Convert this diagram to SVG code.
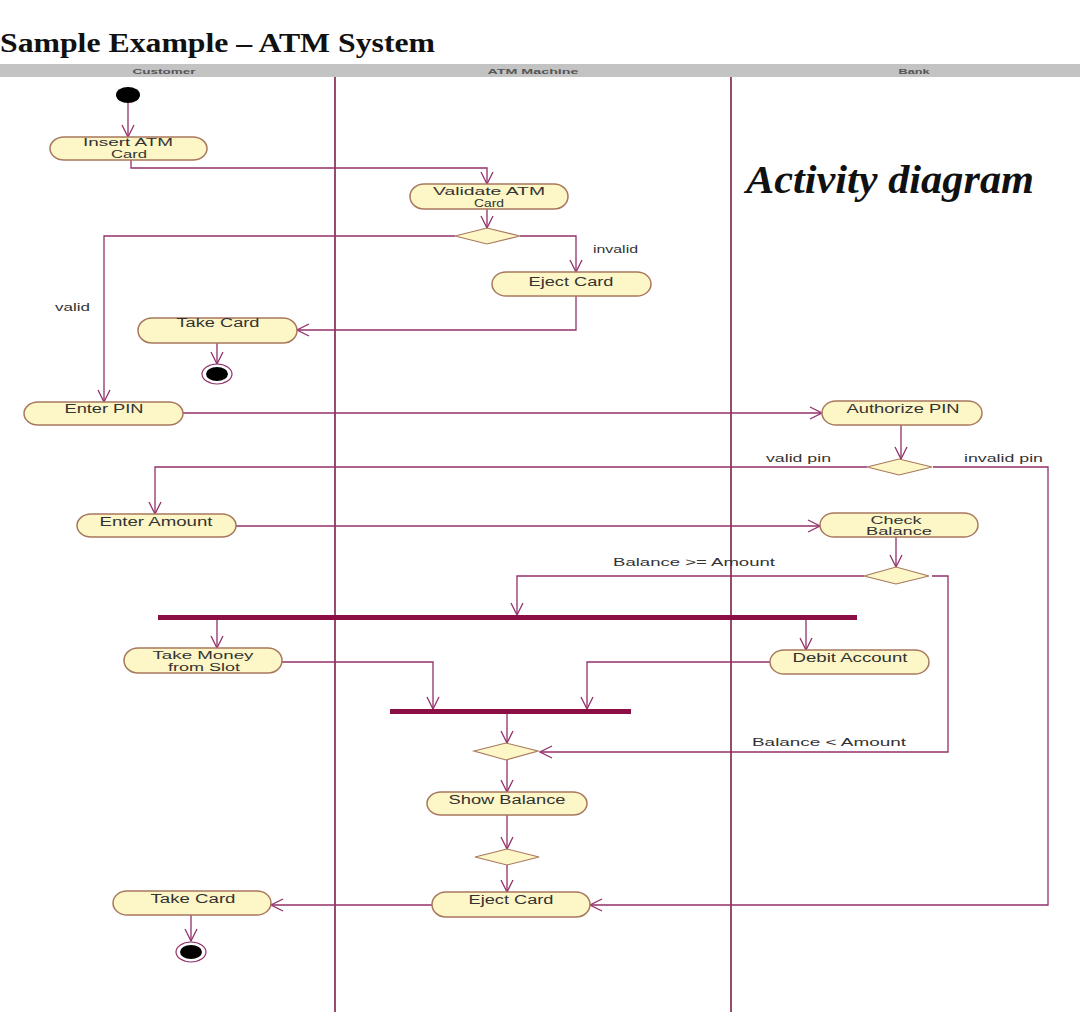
<svg xmlns="http://www.w3.org/2000/svg" width="1080" height="1019" viewBox="0 0 1080 1019">
<defs>
<style>
.act{fill:#fdf6c6;stroke:#a8785e;stroke-width:1.5}
.dec{fill:#fdf6c6;stroke:#a8785e;stroke-width:1.2}
.t{font-family:"Liberation Sans",Arial,sans-serif;font-size:12px;fill:#333;text-anchor:middle}
.t2{font-family:"Liberation Sans",Arial,sans-serif;font-size:10px;fill:#333;text-anchor:middle}
.lbl{font-family:"Liberation Sans",Arial,sans-serif;font-size:11px;fill:#333}
.hdr{font-family:"Liberation Sans",Arial,sans-serif;font-size:8px;font-weight:bold;fill:#555;text-anchor:middle}
.c{fill:none;stroke:#93306a;stroke-width:1.3}
.lane{stroke:#7a2048;stroke-width:1.6}
.bar{fill:#8b0e45}
</style>
<marker id="ar" markerUnits="userSpaceOnUse" markerWidth="14" markerHeight="14" viewBox="0 0 14 14" refX="13" refY="7" orient="auto">
<path d="M1,1 L13,7 L1,13" fill="none" stroke="#93306a" stroke-width="1.3"/>
</marker>
</defs>
<rect width="1080" height="1019" fill="#ffffff"/>
<text x="0" y="52" font-family="'Liberation Serif','Times New Roman',serif" font-size="28" font-weight="bold" fill="#111" textLength="435" lengthAdjust="spacingAndGlyphs">Sample Example – ATM System</text>
<g id="swimlanes">
<rect x="0" y="64" width="1080" height="13" fill="#c3c3c3"/>
<text class="hdr" x="164" y="74" textLength="63" lengthAdjust="spacingAndGlyphs">Customer</text>
<text class="hdr" x="533" y="74" textLength="91" lengthAdjust="spacingAndGlyphs">ATM Machine</text>
<text class="hdr" x="914" y="74" textLength="31" lengthAdjust="spacingAndGlyphs">Bank</text>
<line class="lane" x1="335" y1="77" x2="335" y2="1012"/>
<line class="lane" x1="731" y1="77" x2="731" y2="1012"/>
</g>
<text x="746" y="193" font-family="'Liberation Serif','Times New Roman',serif" font-size="40" font-weight="bold" font-style="italic" fill="#111" textLength="288" lengthAdjust="spacingAndGlyphs">Activity diagram</text>
<g id="connectors">
<path class="c" d="M128,103 L128,137" marker-end="url(#ar)"/>
<path class="c" d="M131,160 L131,168 L487,168 L487,184" marker-end="url(#ar)"/>
<path class="c" d="M487,209 L487,228" marker-end="url(#ar)"/>
<path class="c" d="M455,236 L104,236 L104,402" marker-end="url(#ar)"/>
<path class="c" d="M520,236 L576,236 L576,272" marker-end="url(#ar)"/>
<path class="c" d="M576,296 L576,330 L297,330" marker-end="url(#ar)"/>
<path class="c" d="M217,343 L217,364" marker-end="url(#ar)"/>
<path class="c" d="M183,413 L822,413" marker-end="url(#ar)"/>
<path class="c" d="M901,425 L901,459" marker-end="url(#ar)"/>
<path class="c" d="M867,467 L155,467 L155,514" marker-end="url(#ar)"/>
<path class="c" d="M933,467 L1048,467 L1048,905 L590,905" marker-end="url(#ar)"/>
<path class="c" d="M236,526 L820,526" marker-end="url(#ar)"/>
<path class="c" d="M896,537 L896,567" marker-end="url(#ar)"/>
<path class="c" d="M864,576 L517,576 L517,615" marker-end="url(#ar)"/>
<path class="c" d="M932,576 L948,576 L948,752 L540,752" marker-end="url(#ar)"/>
<path class="c" d="M217,620 L217,648" marker-end="url(#ar)"/>
<path class="c" d="M806,620 L806,650" marker-end="url(#ar)"/>
<path class="c" d="M282,662 L433,662 L433,709" marker-end="url(#ar)"/>
<path class="c" d="M770,662 L587,662 L587,709" marker-end="url(#ar)"/>
<path class="c" d="M507,714 L507,743" marker-end="url(#ar)"/>
<path class="c" d="M507,760 L507,792" marker-end="url(#ar)"/>
<path class="c" d="M507,815 L507,849" marker-end="url(#ar)"/>
<path class="c" d="M507,865 L507,892" marker-end="url(#ar)"/>
<path class="c" d="M432,905 L271,905" marker-end="url(#ar)"/>
<path class="c" d="M191,915 L191,941" marker-end="url(#ar)"/>
<text class="lbl" x="55" y="311" textLength="35" lengthAdjust="spacingAndGlyphs">valid</text>
<text class="lbl" x="593" y="253" textLength="45" lengthAdjust="spacingAndGlyphs">invalid</text>
<text class="lbl" x="766" y="462" textLength="65" lengthAdjust="spacingAndGlyphs">valid pin</text>
<text class="lbl" x="964" y="462" textLength="79" lengthAdjust="spacingAndGlyphs">invalid pin</text>
<text class="lbl" x="613" y="566" textLength="162" lengthAdjust="spacingAndGlyphs">Balance &gt;= Amount</text>
<text class="lbl" x="752" y="746" textLength="154" lengthAdjust="spacingAndGlyphs">Balance &lt; Amount</text>
</g>
<g id="start"><ellipse cx="128" cy="95" rx="12" ry="8" fill="#000"/></g>
<g id="insert-card"><rect class="act" x="50" y="137" width="157" height="23" rx="14" ry="11.5"/>
<text class="t2" x="128" y="146" textLength="90" lengthAdjust="spacingAndGlyphs">Insert ATM</text>
<text class="t2" x="129" y="157.5" textLength="36" lengthAdjust="spacingAndGlyphs">Card</text></g>
<g id="validate-card"><rect class="act" x="410" y="184" width="158" height="25" rx="14" ry="12.5"/>
<text class="t2" x="489" y="195" textLength="112" lengthAdjust="spacingAndGlyphs">Validate ATM</text>
<text class="t2" x="489" y="206.5" textLength="30" lengthAdjust="spacingAndGlyphs">Card</text></g>
<g id="decision-card"><polygon class="dec" points="455,236 487,228 520,236 487,244"/></g>
<g id="eject-card-1"><rect class="act" x="492" y="272" width="159" height="24" rx="14" ry="12"/>
<text class="t" x="571" y="286" textLength="85" lengthAdjust="spacingAndGlyphs">Eject Card</text></g>
<g id="take-card-1"><rect class="act" x="138" y="318" width="159" height="25" rx="14" ry="12.5"/>
<text class="t" x="218" y="327" textLength="83" lengthAdjust="spacingAndGlyphs">Take Card</text></g>
<g id="end-1"><ellipse cx="217" cy="374" rx="15" ry="10" fill="#fff" stroke="#93306a" stroke-width="1.2"/><ellipse cx="217" cy="374" rx="11" ry="7" fill="#000"/></g>
<g id="enter-pin"><rect class="act" x="24" y="402" width="159" height="23" rx="14" ry="11.5"/>
<text class="t" x="104" y="413" textLength="79" lengthAdjust="spacingAndGlyphs">Enter PIN</text></g>
<g id="authorize-pin"><rect class="act" x="822" y="401" width="160" height="24" rx="14" ry="12"/>
<text class="t" x="903" y="413" textLength="113" lengthAdjust="spacingAndGlyphs">Authorize PIN</text></g>
<g id="decision-pin"><polygon class="dec" points="867,467 899,459 932,467 899,475"/></g>
<g id="enter-amount"><rect class="act" x="77" y="514" width="159" height="23" rx="14" ry="11.5"/>
<text class="t" x="156" y="526" textLength="113" lengthAdjust="spacingAndGlyphs">Enter Amount</text></g>
<g id="check-balance"><rect class="act" x="820" y="513" width="158" height="24" rx="14" ry="12"/>
<text class="t2" x="896" y="523.5" textLength="51" lengthAdjust="spacingAndGlyphs">Check</text>
<text class="t2" x="899" y="535" textLength="66" lengthAdjust="spacingAndGlyphs">Balance</text></g>
<g id="decision-balance"><polygon class="dec" points="864,576 896,567 929,576 896,584"/></g>
<g id="fork"><rect class="bar" x="158" y="615" width="699" height="5"/></g>
<g id="take-money"><rect class="act" x="124" y="648" width="158" height="25" rx="14" ry="12.5"/>
<text class="t2" x="203" y="659" textLength="101" lengthAdjust="spacingAndGlyphs">Take Money</text>
<text class="t2" x="204" y="670.5" textLength="72" lengthAdjust="spacingAndGlyphs">from Slot</text></g>
<g id="debit-account"><rect class="act" x="770" y="650" width="159" height="24" rx="14" ry="12"/>
<text class="t" x="850" y="662" textLength="115" lengthAdjust="spacingAndGlyphs">Debit Account</text></g>
<g id="join"><rect class="bar" x="390" y="709" width="241" height="5"/></g>
<g id="merge"><polygon class="dec" points="474,751 506,743 538,751 506,760"/></g>
<g id="show-balance"><rect class="act" x="427" y="792" width="160" height="23" rx="14" ry="11.5"/>
<text class="t" x="507" y="804" textLength="117" lengthAdjust="spacingAndGlyphs">Show Balance</text></g>
<g id="decision-show"><polygon class="dec" points="475,857 507,849 539,857 507,865"/></g>
<g id="eject-card-2"><rect class="act" x="432" y="892" width="158" height="25" rx="14" ry="12.5"/>
<text class="t" x="511" y="904" textLength="85" lengthAdjust="spacingAndGlyphs">Eject Card</text></g>
<g id="take-card-2"><rect class="act" x="113" y="891" width="158" height="24" rx="14" ry="12"/>
<text class="t" x="193" y="903" textLength="85" lengthAdjust="spacingAndGlyphs">Take Card</text></g>
<g id="end-2"><ellipse cx="191" cy="952" rx="15" ry="10" fill="#fff" stroke="#93306a" stroke-width="1.2"/><ellipse cx="191" cy="952" rx="11" ry="7" fill="#000"/></g>
</svg>
